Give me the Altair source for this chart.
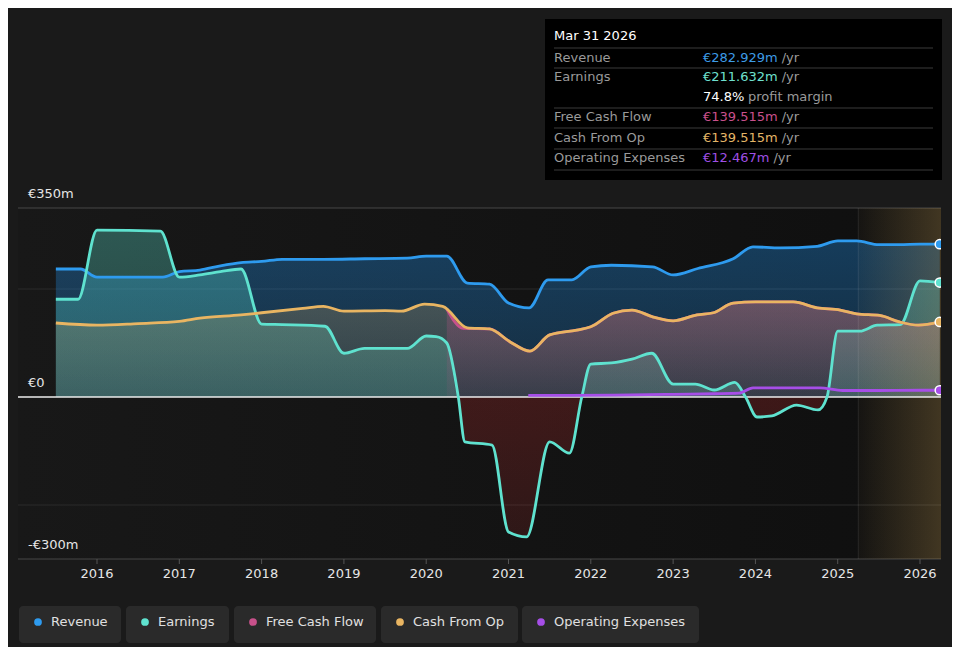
import altair as alt
import pandas as pd

# ---------------- data ----------------
rev_t = [2015.5, 2015.8, 2016.0, 2016.8, 2017.0, 2017.25, 2017.5, 2017.75, 2018.0, 2018.25,
         2018.75, 2019.25, 2019.77, 2020.0, 2020.25, 2020.5, 2020.77, 2021.0, 2021.25, 2021.48,
         2021.77, 2022.0, 2022.25, 2022.75, 2023.0, 2023.3, 2023.73, 2023.97, 2024.3, 2024.75,
         2025.0, 2025.23, 2025.5, 2025.75, 2026.0, 2026.24]
rev_v = [237, 237, 222, 222, 232, 235, 243, 249, 251, 255,
         255, 256, 257, 261, 261, 211, 209, 174, 165, 217,
         217, 241, 244, 241, 226, 238, 256, 278, 276, 279,
         289, 289, 282, 282, 283, 283]

earn_t = [2015.5, 2015.77, 2016.0, 2016.77, 2017.0, 2017.25, 2017.5, 2017.75, 2018.0, 2018.25,
          2018.77, 2019.0, 2019.25, 2019.77, 2020.0, 2020.12, 2020.25, 2020.39, 2020.47, 2020.8,
          2021.0, 2021.22, 2021.5, 2021.74, 2021.89, 2022.0, 2022.25, 2022.5, 2022.74, 2023.0,
          2023.27, 2023.5, 2023.75, 2023.88, 2024.02, 2024.2, 2024.5, 2024.76, 2024.87, 2025.0,
          2025.27, 2025.48, 2025.76, 2026.0, 2026.24]
earn_v = [181, 181, 309, 307, 222, 226, 232, 237, 135, 134,
          131, 81, 90, 90, 113, 112, 100, 0, -83, -89,
          -250, -259, -83, -104, 0, 61, 63, 70, 81, 24,
          24, 13, 27, 0, -37, -35, -15, -24, 0, 122,
          122, 133, 134, 215, 212]

cfo_t = [2015.5, 2016.0, 2016.5, 2017.0, 2017.25, 2017.75, 2018.0, 2018.5, 2018.75, 2019.0,
         2019.5, 2019.7, 2019.98, 2020.2, 2020.5, 2020.77, 2021.02, 2021.26, 2021.5, 2021.83,
         2022.0, 2022.27, 2022.5, 2022.76, 2023.0, 2023.29, 2023.49, 2023.73, 2024.0, 2024.46,
         2024.75, 2025.03, 2025.23, 2025.51, 2025.75, 2025.98, 2026.24]
cfo_v = [137, 133, 136, 140, 146, 152, 156, 164, 168, 159,
         160, 159, 172, 168, 128, 126, 102, 85, 115, 124,
         130, 155, 161, 148, 141, 152, 156, 174, 176, 176,
         165, 161, 154, 151, 139, 133, 139]

fcf_t = [2020.25, 2020.45, 2020.77, 2021.02, 2021.26, 2021.5, 2021.83, 2022.0, 2022.27, 2022.5,
         2022.76, 2023.0, 2023.29, 2023.49, 2023.73, 2024.0, 2024.46, 2024.75, 2025.03, 2025.23,
         2025.51, 2025.75, 2025.98, 2026.24]
fcf_v = [163, 127, 126, 102, 85, 115, 124, 130, 155, 161,
         148, 141, 152, 156, 174, 176, 176, 165, 161, 154,
         151, 139, 133, 139]

opex_t = [2021.24, 2021.75, 2022.5, 2023.0, 2023.5, 2023.8, 2023.97, 2024.5, 2024.78, 2025.06,
          2025.5, 2026.0, 2026.24]
opex_v = [3, 3, 4, 5, 6, 7, 17, 17, 17, 12,
          12, 12.5, 12.5]

series_names = ["Revenue", "Earnings", "Free Cash Flow", "Cash From Op", "Operating Expenses"]
series_colors = ["#2e9bef", "#5fe2cf", "#c8518b", "#e9b562", "#a64ee7"]
tip_values = ["€282.929m", "€211.632m", "€139.515m", "€139.515m", "€12.467m"]
tip_value_colors = ["#3d9be6", "#6fe0cf", "#c9508c", "#e3b567", "#9f4fe4"]
tip_date = "Mar 31 2026"
profit_margin = "74.8%"

y_tick_values = [350, 0, -300]
y_tick_labels = ["€350m", "€0", "-€300m"]
year_ticks = list(range(2016, 2027))

# ---------------- layout constants ----------------
FONT = "DejaVu Sans"
X0, X1 = 2015.04, 2026.255
FORECAST_START = 2025.25
XS = alt.Scale(domain=[X0, X1], range=[10, 933], nice=False, zero=False)
YS = alt.Scale(domain=[-300, 350], range=[551, 200], nice=False, zero=False)


def df(t, v):
    return pd.DataFrame({"t": t, "v": v})


def xenc():
    return alt.X("t:Q", scale=XS, axis=None)


def yenc(field="v:Q"):
    return alt.Y(field, scale=YS, axis=None)


one = pd.DataFrame({"a": [0]})

# plot background
bg_df = pd.DataFrame({"t": [X0], "t2": [X1], "v": [350], "v2": [-300]})
bg = alt.Chart(bg_df).mark_rect(
    fill=alt.Gradient(gradient="linear",
                      stops=[alt.GradientStop(color="#181818", offset=0),
                             alt.GradientStop(color="#0f0f0f", offset=1)],
                      x1=0, x2=1, y1=0, y2=0)
).encode(x=xenc(), x2="t2:Q", y=yenc(), y2="v2:Q")

grid_faint = alt.Chart(pd.DataFrame({"t": [X0, X0], "t2": [X1, X1], "v": [200, -200]})).mark_rule(
    color="#2a2a2a", strokeWidth=1).encode(x=xenc(), x2="t2:Q", y=yenc())
grid_strong = alt.Chart(pd.DataFrame({"t": [X0, X0], "t2": [X1, X1], "v": [350, -300]})).mark_rule(
    color="#464646", strokeWidth=1).encode(x=xenc(), x2="t2:Q", y=yenc())

# x axis ticks and labels drawn through the x scale
year_df = pd.DataFrame({"t": year_ticks, "lab": [str(y) for y in year_ticks]})
x_ticks = alt.Chart(year_df).mark_rule(color="#555555", strokeWidth=1).encode(
    x=xenc(), y=alt.value(551), y2=alt.value(556))
x_labels = alt.Chart(year_df).mark_text(
    baseline="middle", align="center", font=FONT, fontSize=13, color="#e6e6e6").encode(
    x=xenc(), y=alt.value(566), text="lab:N")


def vgrad(c_top, c_bot):
    return alt.Gradient(gradient="linear",
                        stops=[alt.GradientStop(color=c_top, offset=0),
                               alt.GradientStop(color=c_bot, offset=1)],
                        x1=0, x2=0, y1=0, y2=1)


def area(data, fill, field="v:Q"):
    return alt.Chart(data).mark_area(interpolate="monotone", fill=fill).encode(
        x=xenc(), y=yenc(field), y2=alt.datum(0))


rev_area = area(df(rev_t, rev_v), vgrad("rgba(33,150,243,0.33)", "rgba(33,150,243,0.2)"))
earn_pos = alt.Chart(df(earn_t, earn_v)).transform_calculate(p="max(datum.v, 0)").mark_area(
    interpolate="monotone", fill=vgrad("rgba(92,225,208,0.32)", "rgba(92,225,208,0.22)")).encode(
    x=xenc(), y=yenc("p:Q"), y2=alt.datum(0))
earn_neg = alt.Chart(df(earn_t, earn_v)).transform_calculate(p="min(datum.v, 0)").mark_area(
    interpolate="monotone", fill=vgrad("rgba(190,45,45,0.26)", "rgba(190,45,45,0.16)")).encode(
    x=xenc(), y=yenc("p:Q"), y2=alt.datum(0))
cfo_area = area(df(cfo_t, cfo_v), vgrad("rgba(232,181,99,0.22)", "rgba(232,181,99,0.1)"))
fcf_area = area(df(fcf_t, fcf_v), vgrad("rgba(199,82,138,0.28)", "rgba(199,82,138,0.08)"))

band = alt.Chart(pd.DataFrame({"t": [FORECAST_START], "t2": [X1], "v": [350], "v2": [-300]})).mark_rect(
    fill=alt.Gradient(gradient="linear",
                      stops=[alt.GradientStop(color="rgba(200,160,85,0.03)", offset=0),
                             alt.GradientStop(color="rgba(200,160,85,0.27)", offset=1)],
                      x1=0, x2=1, y1=0, y2=0)
).encode(x=xenc(), x2="t2:Q", y=yenc(), y2="v2:Q")
band_edge = alt.Chart(pd.DataFrame({"t": [FORECAST_START], "v": [350], "v2": [-300]})).mark_rule(
    color="#ffffff", opacity=0.09, strokeWidth=1).encode(x=xenc(), y=yenc(), y2="v2:Q")

zero_line = alt.Chart(pd.DataFrame({"t": [X0], "t2": [X1], "v": [0]})).mark_rule(
    color="#ececec", strokeWidth=1.5).encode(x=xenc(), x2="t2:Q", y=yenc())


def line(data, color):
    return alt.Chart(data).mark_line(interpolate="monotone", strokeWidth=2.8, color=color).encode(
        x=xenc(), y=yenc())


rev_line = line(df(rev_t, rev_v), series_colors[0])
earn_line = line(df(earn_t, earn_v), series_colors[1])
fcf_line = line(df(fcf_t, fcf_v), series_colors[2])
cfo_line = line(df(cfo_t, cfo_v), series_colors[3])
opex_line = line(df(opex_t, opex_v), series_colors[4])

end_df = pd.DataFrame({
    "t": [rev_t[-1], earn_t[-1], cfo_t[-1], opex_t[-1]],
    "v": [rev_v[-1], earn_v[-1], cfo_v[-1], opex_v[-1]],
    "c": [series_colors[0], series_colors[1], series_colors[3], series_colors[4]],
})
end_pts = alt.Chart(end_df).mark_point(filled=True, size=85, stroke="#ffffff", strokeWidth=1.5,
                                        opacity=1, clip=True).encode(
    x=xenc(), y=yenc(), fill=alt.Fill("c:N", scale=None))

ylab = alt.Chart(pd.DataFrame({"v": y_tick_values, "lab": y_tick_labels})).mark_text(
    align="left", baseline="middle", font=FONT, fontSize=13, color="#e6e6e6", dy=-14).encode(
    x=alt.value(20), y=yenc(), text="lab:N")

# ---------------- tooltip box ----------------
layers_static = []
layers_static.append(alt.Chart(one).mark_rect(fill="#000000").encode(
    x=alt.value(537), x2=alt.value(934), y=alt.value(11), y2=alt.value(172)))
for yy in [40, 60, 100, 120, 141, 162]:
    layers_static.append(alt.Chart(one).mark_rule(color="#3a3a3a", strokeWidth=1).encode(
        x=alt.value(546), x2=alt.value(925), y=alt.value(yy)))
layers_static.append(alt.Chart(one).mark_text(
    text=tip_date, align="left", baseline="middle", font=FONT, fontSize=13, color="#ffffff").encode(
    x=alt.value(546), y=alt.value(28)))

CW = {"€": 0.636, ".": 0.318, "m": 0.974, "%": 0.95}


def text_w(s, size=13):
    return sum(CW.get(ch, 0.636) for ch in s) * size


row_y = [50, 69, 109, 130, 150]
for i, name in enumerate(series_names):
    layers_static.append(alt.Chart(one).mark_text(
        text=name, align="left", baseline="middle", font=FONT, fontSize=13, color="#9a9a9a").encode(
        x=alt.value(546), y=alt.value(row_y[i])))
    layers_static.append(alt.Chart(one).mark_text(
        text=tip_values[i], align="left", baseline="middle", font=FONT, fontSize=13,
        color=tip_value_colors[i]).encode(x=alt.value(695), y=alt.value(row_y[i])))
    layers_static.append(alt.Chart(one).mark_text(
        text="/yr", align="left", baseline="middle", font=FONT, fontSize=13, color="#9a9a9a").encode(
        x=alt.value(695 + text_w(tip_values[i]) + 4), y=alt.value(row_y[i])))
layers_static.append(alt.Chart(one).mark_text(
    text=profit_margin, align="left", baseline="middle", font=FONT, fontSize=13, color="#ffffff").encode(
    x=alt.value(695), y=alt.value(89)))
layers_static.append(alt.Chart(one).mark_text(
    text="profit margin", align="left", baseline="middle", font=FONT, fontSize=13, color="#9a9a9a").encode(
    x=alt.value(740), y=alt.value(89)))

# ---------------- legend pills ----------------
box_l = [11, 118, 226, 373, 514]
box_r = [113, 221, 368, 510, 691]
for i, name in enumerate(series_names):
    layers_static.append(alt.Chart(one).mark_rect(fill="#2a2a2a", cornerRadius=4).encode(
        x=alt.value(box_l[i]), x2=alt.value(box_r[i]), y=alt.value(598), y2=alt.value(635)))
    layers_static.append(alt.Chart(one).mark_point(filled=True, size=60, color=series_colors[i],
                                                   opacity=1).encode(
        x=alt.value(box_l[i] + 19), y=alt.value(614)))
    layers_static.append(alt.Chart(one).mark_text(
        text=name, align="left", baseline="middle", font=FONT, fontSize=13, color="#e0e0e0").encode(
        x=alt.value(box_l[i] + 32), y=alt.value(614)))

chart = alt.layer(
    bg, grid_faint, grid_strong, x_ticks, x_labels,
    rev_area, earn_pos, earn_neg, cfo_area, fcf_area,
    band, band_edge, zero_line,
    rev_line, earn_line, fcf_line, cfo_line, opex_line,
    end_pts, ylab, *layers_static
).properties(
    width=933, height=551, autosize="none",
    padding={"left": 0, "top": 0, "right": 11, "bottom": 88},
    background="#1a1a1a",
).configure_view(strokeWidth=0)

chart.save("out.html", embed_options={"renderer": "svg", "actions": False})
